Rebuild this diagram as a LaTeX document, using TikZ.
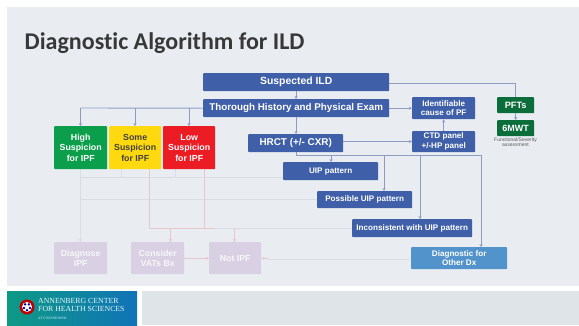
\documentclass[tikz,border=0pt]{standalone}
\usepackage{fontspec}
\setmainfont{Liberation Sans}
\newfontfamily\titlefont[Ligatures=NoCommon]{Carlito}
\newfontfamily\logofont{Liberation Serif}
\usetikzlibrary{arrows.meta}
\definecolor{slidebg}{HTML}{E9EDF2}
\definecolor{bluebox}{HTML}{3F5FA9}
\definecolor{lightblue}{HTML}{5293CB}
\definecolor{paleviolet}{HTML}{D9D1E3}
\definecolor{linecol}{HTML}{8E9CC4}
\definecolor{faint}{HTML}{DADDE4}
\definecolor{pinkline}{HTML}{E8C6CC}
\definecolor{greenbox}{HTML}{0C9F4B}
\definecolor{darkgreen}{HTML}{0B6E3A}
\definecolor{yel}{HTML}{FFD90F}
\definecolor{redbox}{HTML}{EC1C24}
\definecolor{footgray}{HTML}{DEE4E7}
\definecolor{logoleft}{HTML}{0E9A84}
\definecolor{logoright}{HTML}{1173B8}
\tikzset{
 x=1pt,y=-1pt,
 flow/.style={rounded corners=.8pt,inner sep=0pt,align=center,font=\bfseries\fontsize{8.1}{9.6}\selectfont,text=white,anchor=north west},
 bluenode/.style={flow,fill=bluebox},
 suspnode/.style={flow,font=\bfseries\fontsize{8.8}{10.5}\selectfont},
 conn/.style={draw=linecol,line width=.9pt},
 arr/.style={conn,-{Stealth[length=3pt,width=3.2pt]}},
 faintl/.style={draw=faint,line width=.7pt},
 faintarr/.style={faintl,-{Stealth[length=3pt,width=3pt]}},
 pinkl/.style={draw=pinkline,line width=.7pt},
 pinkarr/.style={pinkl,-{Stealth[length=3pt,width=3pt]}},
}
\newcommand{\bx}[6]{\node[#1,minimum width=#4pt,minimum height=#5pt] (#2) at (#3) {#6};}
\begin{document}
\begin{tikzpicture}
\useasboundingbox (0,0) rectangle (579,325);
\fill[white] (0,0) rectangle (579,325);
\fill[slidebg] (7,7) rectangle (579,286);
\fill[footgray] (142,291) rectangle (579,325);
\shade[left color=logoleft,right color=logoright] (7,291) rectangle (137,325);
\node[font=\titlefont\bfseries\fontsize{24}{26}\selectfont,text=black!78,anchor=base west,inner sep=0pt] (title) at (24.5,49) {Diagnostic Algorithm for ILD};

% faded connectors (under the boxes)
\draw[faintl] (283,177) -- (80.5,177);
\draw[faintl] (121,169) -- (121,177);
\draw[faintl] (175,169) -- (175,177);
\draw[faintl] (317,199) -- (80.5,199);
\draw[faintl] (411,259) -- (268,259);
\draw[faintarr] (80.5,169) -- (80.5,242);
\draw[pinkl] (149,169) -- (149,228);
\draw[pinkl] (204,169) -- (204,228);
\draw[pinkl] (149,228) -- (215,228);
\draw[faintl] (215,228) -- (352,228);
\draw[pinkarr] (170.5,228) -- (170.5,242);
\draw[pinkarr] (234.5,228) -- (234.5,242);

\bx{bluenode,font=\bfseries\fontsize{10.4}{12}\selectfont}{susp}{203,73}{186}{18}{Suspected ILD}
\bx{bluenode,font=\bfseries\fontsize{9.8}{12}\selectfont}{hist}{203,99}{186}{18}{Thorough History and Physical Exam}
\bx{bluenode}{iden}{412,97}{63}{22}{Identifiable\\cause of PF}
\bx{bluenode}{ctd}{412,131}{63}{21}{CTD panel\\+/-HP panel}
\bx{bluenode,font=\bfseries\fontsize{9.9}{12}\selectfont}{hrct}{248,134}{95}{18}{HRCT (+/- CXR)}
\bx{bluenode}{uip}{283,162}{95}{18}{UIP pattern}
\bx{bluenode}{poss}{317,191}{95}{17}{Possible UIP pattern}
\bx{bluenode}{inco}{352,219}{120}{18}{Inconsistent with UIP pattern}
\bx{flow,fill=lightblue}{other}{411,247}{96}{22}{Diagnostic for\\Other Dx}
\bx{suspnode,fill=greenbox}{high}{54,126}{53}{43}{High\\Suspicion\\for IPF}
\bx{suspnode,fill=yel,text=black!75}{some}{109,126}{52}{43}{Some\\Suspicion\\for IPF}
\bx{suspnode,fill=redbox}{low}{163,126}{52}{43}{Low\\Suspicion\\for IPF}
\bx{flow,fill=darkgreen,font=\bfseries\fontsize{9.2}{10}\selectfont}{pft}{497,97}{37}{16}{PFTs}
\bx{flow,fill=darkgreen,font=\bfseries\fontsize{9}{10}\selectfont}{mwt}{497,120}{37}{16}{6MWT}
\bx{suspnode,fill=paleviolet,text=white!80!paleviolet}{diag}{54,242}{53}{32}{Diagnose\\IPF}
\bx{suspnode,fill=paleviolet,text=white!80!paleviolet}{cons}{131,242}{53}{32}{Consider\\VATs Bx}
\bx{suspnode,fill=paleviolet,text=white!80!paleviolet}{notipf}{209,242}{52}{32}{Not IPF}
\node[font=\fontsize{5}{5.6}\selectfont,align=center,text=black!65,inner sep=0pt] (func) at (515.5,142.3) {Functional/Severity\\assessment};

% logo
\fill[red!75!black] (27,307) circle (7.5);
\fill[white] (27,307) circle (5);
\foreach \a in {0,72,144,216,288} \fill[blue!55!black] (27,307) ++(\a+90:3.2) circle (1.3);
\node[text=white!90!cyan,font=\logofont\fontsize{7.8}{8}\selectfont,align=left,anchor=north west,inner sep=0pt] (logo) at (38,298.5) {ANNENBERG CENTER\\FOR HEALTH SCIENCES};
\node[text=white!80!cyan,font=\logofont\fontsize{3.6}{4}\selectfont,anchor=west,inner sep=0pt] (logob) at (38,318.5) {AT EISENHOWER};

% upper connectors
\coordinate (bh) at (80.5,108);
\draw[arr] (296,91) -- (296,99);
\draw[arr] (296,117) -- (296,134);
\draw[conn] (hist.west) -- (bh);
\draw[arr] (bh) -- (bh |- high.north);
\draw[arr] (135,108) -- (135,126);
\draw[arr] (189,108) -- (189,126);
\draw[arr] (hist.east) -- (hist.east -| iden.west);
\draw[arr] (hrct.east |- 0,141.5) -- (ctd.west |- 0,141.5);
\draw[arr] (ctd.north) -- (iden.south);
\draw[conn] (susp.east |- 0,83) -- (pft.north |- 0,83) -- (pft.north);
\draw[arr] (pft.south) -- (mwt.north);
\draw[conn] (296,152) -- (296,155) -- (481,155);
\draw[arr] (331,155) -- (331,162);
\draw[arr] (384,155) -- (384,191);
\draw[arr] (420,155) -- (420,219);
\draw[arr] (481,155) -- (481,247);

% faded connectors (between bottom boxes)
\draw[pinkarr] (cons.east) -- (notipf.west);
\draw[pinkarr] (268,258.5) -- (notipf.east |- 0,258.5);
\end{tikzpicture}
\end{document}
